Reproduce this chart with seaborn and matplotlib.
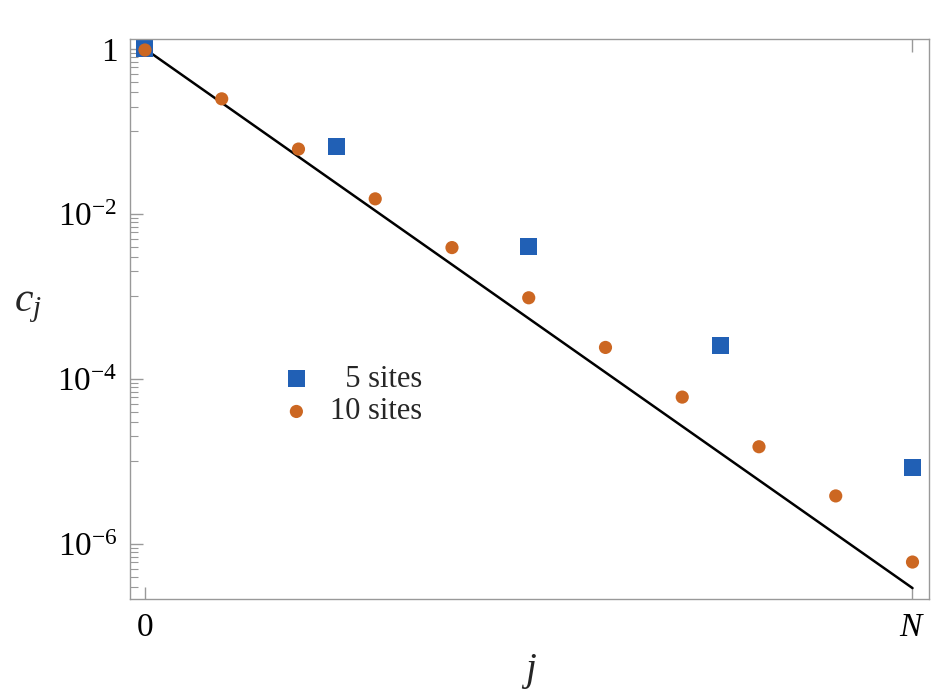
import numpy as np
import pandas as pd
import matplotlib
matplotlib.use("Agg")
import matplotlib.pyplot as plt
import seaborn as sns

# Data
x5 = [0.0, 0.25, 0.5, 0.75, 1.0]
c5 = [1.0, 0.065, 0.0040, 2.5e-4, 8.3e-6]
x10 = [0.0, 0.1, 0.2, 0.3, 0.4, 0.5, 0.6, 0.7, 0.8, 0.9, 1.0]
c10 = [0.97, 0.248, 0.061, 0.0152, 0.0039, 9.6e-4, 2.4e-4, 6.0e-5, 1.5e-5, 3.8e-6, 6.0e-7]
xline = [0.0, 1.0]
cline = [1.0, 2.9e-7]
labels = ["  5 sites", "10 sites"]
xticklabels = ["0", "$N$"]

sns.set_style("white")
plt.rcParams["font.family"] = ["Liberation Serif", "DejaVu Serif"]
plt.rcParams["mathtext.fontset"] = "custom"
plt.rcParams["mathtext.rm"] = "Liberation Serif"
plt.rcParams["mathtext.it"] = "Liberation Serif:italic"

fig = plt.figure(figsize=(9.38, 6.96), dpi=100)
ax = fig.add_axes([130/938, 1-599/696, (929-130)/938, (599-39)/696])

df5 = pd.DataFrame({"x": x5, "c": c5})
df10 = pd.DataFrame({"x": x10, "c": c10})
dfl = pd.DataFrame({"x": xline, "c": cline})

sns.lineplot(data=dfl, x="x", y="c", color="black", lw=1.8, ax=ax, zorder=1)
sns.scatterplot(data=df5, x="x", y="c", marker="s", s=150, color="#2160b5",
                edgecolor="none", ax=ax, label=labels[0], zorder=2)
sns.scatterplot(data=df10, x="x", y="c", marker="o", s=90, color="#cc6722",
                edgecolor="none", ax=ax, label=labels[1], zorder=3)

ax.set_yscale("log")
ax.set_xlim(-0.0195, 1.0215)
ax.set_ylim(10**-6.67, 10**0.12)

ax.set_xticks([0, 1])
ax.set_xticklabels(xticklabels)
ax.set_yticks([1, 1e-2, 1e-4, 1e-6])
ax.set_yticklabels(["1", "$10^{-2}$", "$10^{-4}$", "$10^{-6}$"])
minor = [m * 10.0**e for e in [-1, -3, -5, -7] for m in range(1, 10)]
minor = [v for v in minor if 10**-6.67 < v < 10**0.12]
ax.set_yticks(minor, minor=True)
ax.yaxis.set_minor_formatter(matplotlib.ticker.NullFormatter())
ax.xaxis.set_minor_locator(matplotlib.ticker.NullLocator())

ax.tick_params(axis="both", which="both", direction="in", color="#999999",
               labelsize=24, labelcolor="black")
ax.tick_params(axis="y", which="major", length=9, width=1, pad=9, left=True)
ax.tick_params(axis="y", which="minor", length=6, width=0.8, left=True)
ax.tick_params(axis="x", which="major", length=9, width=1, pad=10, bottom=True, top=True)

for sp in ax.spines.values():
    sp.set_color("#999999")
    sp.set_linewidth(1.0)

ax.set_xlabel("$j$", fontsize=28)
ax.xaxis.set_label_coords(0.5, -0.095)
ax.set_ylabel("$c_j$", fontsize=30, rotation=0)
ax.yaxis.set_label_coords(-0.128, 0.49)

leg = ax.legend(loc="upper left", bbox_to_anchor=(0.17, 0.44), frameon=False,
                fontsize=22, handletextpad=0.5, labelspacing=0.12,
                borderaxespad=0, handlelength=1.2)

fig.savefig("out.png", dpi=100)
